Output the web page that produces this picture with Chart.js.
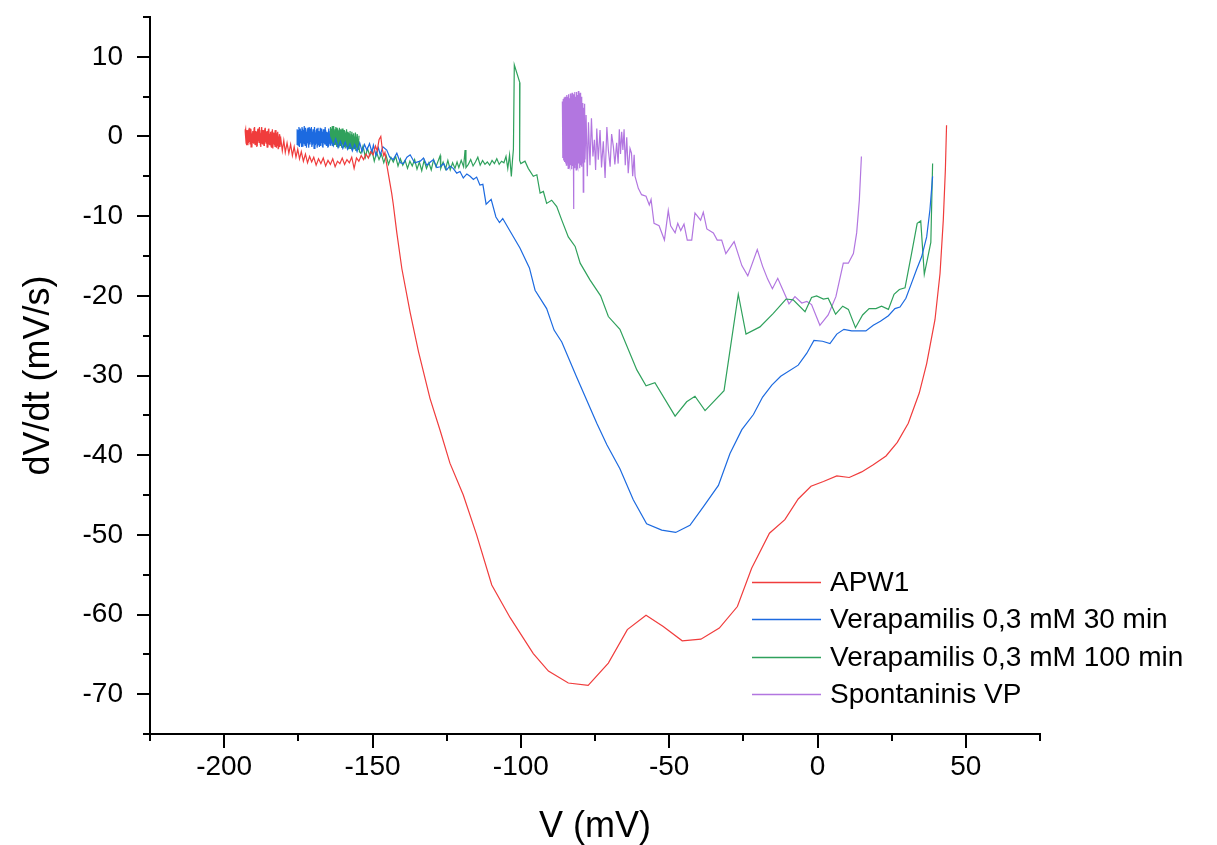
<!DOCTYPE html>
<html lang="en">
<head>
    <meta charset="UTF-8">
    <title>dV/dt vs V</title>
    <script src="https://cdn.jsdelivr.net/npm/chart.js"></script>
    <style>
        body { margin: 0; background: #ffffff; }
        #wrap { width: 1217px; height: 845px; }
    </style>
</head>
<body>
<div id="wrap"><canvas id="phaseChart" width="1217" height="845"></canvas></div>
<script>
// [V (mV), dV/dt (mV/s)] pairs
const seriesNames = ['APW1', 'Verapamilis 0,3 mM 30 min', 'Verapamilis 0,3 mM 100 min', 'Spontaninis VP'];

const apw1 = [
    [-181.35,0.3],[-181.65,-1.5],[-181.95,0.6],[-182.25,-1.2],[-182.55,0.8],[-182.85,-1.3],[-183.15,0.4],[-183.45,-1.0],[-183.75,0.9],[-184.05,-1.4],
    [-184.35,0.6],[-184.65,-1.1],[-184.95,1.0],[-185.25,-1.3],[-185.55,0.7],[-185.85,-0.9],[-186.15,1.1],[-186.45,-1.2],[-186.75,0.5],[-187.05,-1.0],
    [-187.35,1.2],[-187.65,-1.3],[-187.95,0.8],[-188.25,-0.8],[-188.55,1.0],[-188.85,-1.2],[-189.15,0.6],[-189.45,-1.1],[-189.75,1.2],[-190.05,-0.9],
    [-190.35,0.7],[-190.65,-1.3],[-190.95,0.9],[-191.25,-1.0],[-191.55,1.1],[-191.85,-0.8],[-192.15,0.7],[-192.45,-1.1],[-192.75,0.9],
    [-192.9,0.6],[-192.6,-0.9],[-192.3,0.8],[-192.0,-1.1],[-191.7,0.9],[-191.4,-0.7],[-191.1,1.0],[-190.8,-1.2],[-190.5,0.5],[-190.2,-0.8],
    [-189.9,1.1],[-189.6,-1.0],[-189.3,0.7],[-189.0,-1.3],[-188.7,0.9],[-188.4,-0.6],[-188.1,1.2],[-187.8,-1.1],[-187.5,0.4],[-187.2,-0.9],
    [-186.9,0.8],[-186.6,-1.2],[-186.3,1.0],[-186.0,-0.7],[-185.7,0.6],[-185.4,-1.4],[-185.1,0.9],[-184.8,-1.0],[-184.5,0.3],[-184.2,-1.2],
    [-183.9,0.7],[-183.6,-1.5],[-183.3,0.5],[-183.0,-1.1],[-182.7,0.2],[-182.4,-1.4],[-182.1,0.4],[-181.8,-1.6],[-181.5,0.0],[-181.2,-1.3],
    [-180.9,-0.3],[-180.4,-1.8],[-179.9,-0.5],[-179.4,-2.0],[-178.8,-0.8],[-178.2,-2.1],[-177.6,-1.0],[-177.0,-2.4],[-176.4,-1.3],[-175.8,-2.6],
    [-175.2,-1.6],[-174.6,-2.8],[-174.0,-1.9],[-173.3,-3.1],[-172.6,-2.2],[-171.9,-3.3],[-171.2,-2.5],[-170.5,-3.2],[-169.8,-2.6],[-169.0,-3.6],
    [-168.2,-2.8],[-167.4,-3.4],[-166.6,-2.7],[-165.8,-3.7],[-165.0,-3.0],[-164.2,-3.5],[-163.4,-2.8],[-162.6,-3.8],[-161.8,-3.1],[-161.0,-3.4],
    [-160.2,-2.7],[-159.4,-3.5],[-158.6,-2.9],[-157.8,-3.3],[-157.0,-2.6],[-156.2,-4.0],[-155.4,-2.7],[-154.6,-3.1],[-153.8,-2.4],[-153.0,-2.9],
    [-152.2,-2.2],[-151.4,-2.7],[-150.6,-1.9],[-149.8,-2.3],[-149.0,-1.2],[-148.4,-1.8],[-147.8,-0.4],[-147.2,0.0],[-146.7,-1.6],[-146.2,-2.4],
    [-145.8,-2.0],[-145.4,-3.1],[-143.5,-7.2],[-143.0,-8.5],[-141.8,-12.1],[-140.1,-16.6],[-137.3,-22.1],[-134.5,-27.0],[-130.6,-32.9],[-127.2,-36.9],
    [-123.9,-41.0],[-119.4,-45.0],[-114.9,-50.0],[-109.8,-56.3],[-103.6,-60.4],[-95.8,-64.9],[-90.7,-67.1],[-84.0,-68.6],[-77.3,-68.9],[-70.5,-66.1],
    [-64.1,-61.9],[-57.8,-60.1],[-52.0,-61.5],[-45.6,-63.3],[-39.3,-63.1],[-33.1,-61.7],[-27.0,-59.0],[-22.2,-54.2],[-16.2,-49.8],[-11.0,-48.1],
    [-6.5,-45.5],[-2.2,-43.9],[2.0,-43.3],[6.5,-42.6],[10.7,-42.8],[14.9,-42.1],[18.8,-41.2],[23.1,-40.1],[26.9,-38.4],[30.6,-36.0],
    [34.3,-32.2],[36.8,-28.5],[39.6,-23.0],[41.3,-17.2],[42.4,-10.5],[43.1,-4.2],[43.5,1.4]
];

const vera30 = [
    [-164.45,-0.9],[-164.75,1.0],[-165.05,-1.4],[-165.35,0.6],[-165.65,-1.1],[-165.95,1.2],[-166.25,-0.8],[-166.55,0.9],[-166.85,-1.3],[-167.15,1.0],
    [-167.45,-1.2],[-167.75,0.7],[-168.05,-1.0],[-168.35,1.1],[-168.65,-1.4],[-168.95,0.8],[-169.25,-1.1],[-169.55,1.2],[-169.85,-0.9],[-170.15,0.6],
    [-170.45,-1.3],[-170.75,1.0],[-171.05,-1.0],[-171.35,1.2],[-171.65,-0.8],[-171.95,0.9],[-172.25,-1.4],[-172.55,1.1],[-172.85,-1.0],[-173.15,0.8],
    [-173.45,-1.2],[-173.75,1.2],[-174.05,-0.9],[-174.35,1.0],[-174.65,-1.3],[-174.95,0.8],[-175.25,-1.0],
    [-175.4,0.9],[-175.1,-1.1],[-174.8,1.2],[-174.5,-0.8],[-174.2,0.7],[-173.9,-1.3],[-173.6,1.0],[-173.3,-0.9],[-173.0,1.3],[-172.7,-1.2],
    [-172.4,0.6],[-172.1,-1.0],[-171.8,1.1],[-171.5,-1.4],[-171.2,0.8],[-170.9,-0.7],[-170.6,1.2],[-170.3,-1.1],[-170.0,0.9],[-169.7,-1.5],
    [-169.4,0.5],[-169.1,-0.9],[-168.8,1.0],[-168.5,-1.2],[-168.2,0.7],[-167.9,-1.3],[-167.6,1.1],[-167.3,-0.8],[-167.0,0.6],[-166.7,-1.4],
    [-166.4,0.9],[-166.1,-1.0],[-165.8,0.8],[-165.5,-1.2],[-165.2,0.5],[-164.9,-1.3],[-164.6,0.7],[-164.3,-1.1],
    [-164.0,-0.4],[-163.2,-1.2],[-162.4,-0.3],[-161.6,-1.4],[-160.8,-0.6],[-160.0,-1.5],[-159.2,-0.7],[-158.4,-1.6],[-157.6,-0.9],[-156.8,-1.8],
    [-156.0,-1.0],[-155.2,-1.9],[-154.3,-0.8],[-153.5,-1.9],[-152.7,-1.0],[-151.9,-1.7],[-151.0,-0.9],[-150.2,-2.0],[-149.7,-1.1],[-148.8,-2.4],
    [-148.0,-1.4],[-147.4,-2.3],[-146.5,-1.3],[-145.2,-1.7],[-144.2,-2.6],[-143.0,-2.9],[-141.8,-2.1],[-140.6,-3.3],[-139.6,-3.4],[-138.4,-2.6],
    [-137.3,-2.3],[-135.8,-3.3],[-133.9,-3.1],[-132.8,-2.7],[-131.7,-3.6],[-130.5,-3.2],[-129.5,-2.9],[-128.3,-3.9],[-127.2,-3.8],[-126.0,-3.4],
    [-125.0,-4.2],[-123.9,-3.7],[-122.8,-4.0],[-121.6,-4.6],[-120.5,-4.4],[-119.4,-5.2],[-118.2,-4.7],[-117.1,-5.0],[-116.0,-5.4],[-114.9,-5.1],
    [-113.8,-6.1],[-112.8,-6.0],[-111.7,-8.5],[-110.0,-7.9],[-108.4,-10.1],[-107.2,-10.8],[-106.1,-10.3],[-103.9,-11.7],[-100.3,-14.0],[-97.1,-16.5],
    [-95.2,-19.3],[-91.3,-21.6],[-88.8,-24.3],[-86.2,-25.8],[-81.2,-30.2],[-74.4,-36.0],[-71.0,-38.7],[-66.6,-41.7],[-62.1,-45.6],[-57.6,-48.6],
    [-52.5,-49.4],[-47.8,-49.7],[-43.0,-48.8],[-38.5,-46.5],[-33.4,-43.8],[-29.5,-39.8],[-25.5,-36.8],[-21.6,-34.9],[-18.5,-32.7],[-15.4,-31.2],
    [-12.4,-30.1],[-6.5,-28.7],[-3.6,-27.2],[-1.2,-25.6],[1.7,-25.7],[4.2,-26.0],[6.5,-24.8],[8.9,-24.2],[11.5,-24.4],[16.3,-24.4],
    [18.8,-23.7],[21.2,-23.2],[23.9,-22.5],[26.1,-21.6],[27.8,-21.4],[29.8,-20.3],[31.7,-18.4],[33.4,-16.7],[35.1,-15.1],[36.8,-12.6],
    [37.9,-9.2],[38.8,-5.0]
];

const vera100 = [
    [-154.55,0.1],[-154.85,-1.7],[-155.15,0.3],[-155.45,-1.4],[-155.75,0.5],[-156.05,-1.6],[-156.35,0.4],[-156.65,-1.3],[-156.95,0.6],[-157.25,-1.5],
    [-157.55,0.7],[-157.85,-1.2],[-158.15,0.5],[-158.45,-1.4],[-158.75,0.9],[-159.05,-1.1],[-159.35,0.7],[-159.65,-1.3],[-159.95,1.0],[-160.25,-1.0],
    [-160.55,0.8],[-160.85,-1.2],[-161.15,1.1],[-161.45,-0.9],[-161.75,0.9],[-162.05,-1.3],[-162.35,1.2],[-162.65,-1.0],[-162.95,0.9],[-163.25,-1.1],
    [-163.55,1.3],[-163.85,-0.8],[-164.15,1.1],
    [-164.3,1.2],[-164.0,-0.9],[-163.7,1.0],[-163.4,-1.2],[-163.1,1.3],[-162.8,-0.8],[-162.5,0.9],[-162.2,-1.1],[-161.9,1.1],[-161.6,-1.3],
    [-161.3,0.8],[-161.0,-1.0],[-160.7,0.9],[-160.4,-1.4],[-160.1,0.7],[-159.8,-1.2],[-159.5,0.8],[-159.2,-1.5],[-158.9,0.5],[-158.6,-1.3],
    [-158.3,0.6],[-158.0,-1.6],[-157.7,0.4],[-157.4,-1.4],[-157.1,0.3],[-156.8,-1.7],[-156.5,0.2],[-156.2,-1.5],[-155.9,0.0],[-155.6,-1.8],
    [-155.3,-0.1],[-155.0,-1.6],[-154.7,-0.3],[-154.4,-1.9],
    [-153.9,-2.1],[-153.2,-1.2],[-152.4,-2.6],[-151.7,-1.5],[-150.9,-2.4],[-150.2,-1.7],[-149.4,-3.1],[-148.6,-2.0],[-147.8,-2.9],[-147.0,-2.2],
    [-146.2,-3.3],[-145.4,-2.4],[-144.6,-3.5],[-143.8,-2.6],[-143.0,-3.2],[-142.2,-2.5],[-141.4,-3.7],[-140.6,-2.8],[-139.8,-3.6],[-139.0,-3.0],
    [-138.2,-4.0],[-137.4,-3.1],[-136.6,-3.7],[-135.8,-2.9],[-135.0,-4.1],[-134.2,-3.2],[-133.4,-4.3],[-132.6,-3.0],[-131.8,-4.0],[-131.0,-3.3],
    [-130.2,-4.2],[-129.4,-2.9],[-128.6,-3.8],[-127.2,-2.4],[-127.0,-4.0],[-126.2,-3.2],[-125.4,-4.1],[-124.6,-3.0],[-123.8,-4.2],[-123.0,-3.3],
    [-122.2,-4.0],[-121.5,-3.2],[-120.9,-3.9],[-120.1,-3.0],[-119.3,-3.8],[-118.8,-1.7],[-118.5,-3.9],[-117.7,-3.5],[-116.9,-2.9],[-116.1,-3.7],
    [-115.3,-3.2],[-114.5,-2.6],[-113.7,-3.6],[-112.9,-3.0],[-112.1,-3.5],[-111.3,-3.2],[-110.5,-3.6],[-109.7,-3.0],[-108.9,-3.4],[-108.1,-2.8],
    [-107.3,-3.5],[-106.5,-3.1],[-105.7,-3.3],[-105.0,-2.5],[-104.4,-4.0],[-103.8,-2.3],[-103.2,-5.0],[-102.8,-2.9],[-102.5,-1.6],[-102.2,9.0],
    [-100.3,6.7],[-100.4,-3.0],[-100.0,-3.4],[-98.6,-3.1],[-97.5,-4.0],[-95.8,-5.0],[-94.6,-4.8],[-93.5,-7.1],[-92.4,-6.9],[-91.3,-8.4],
    [-89.6,-8.0],[-87.9,-8.8],[-86.2,-10.5],[-84.0,-12.6],[-81.7,-13.8],[-80.0,-15.9],[-76.7,-18.0],[-73.1,-20.0],[-70.5,-22.6],[-66.6,-24.2],
    [-60.9,-29.3],[-57.8,-31.3],[-54.8,-30.9],[-48.0,-35.1],[-44.1,-33.3],[-41.3,-32.6],[-37.9,-34.4],[-31.5,-31.9],[-26.7,-19.8],[-24.1,-24.8],
    [-19.4,-23.9],[-14.9,-22.2],[-10.6,-20.4],[-8.2,-20.5],[-4.2,-22.0],[-2.0,-20.2],[-0.3,-20.0],[2.0,-20.4],[3.6,-20.3],[6.1,-22.3],
    [8.5,-21.3],[10.4,-21.7],[12.8,-24.0],[15.2,-22.4],[17.4,-21.6],[19.7,-21.6],[21.6,-21.3],[23.9,-21.7],[25.8,-19.8],[27.6,-19.2],
    [29.5,-19.0],[31.7,-14.7],[33.6,-10.9],[34.8,-10.6],[36.0,-17.3],[38.2,-13.3],[38.8,-3.4]
];

const spontVP = [
    [-86.00,4.4],[-85.85,-2.7],[-85.70,4.7],[-85.55,-3.0],[-85.40,4.9],[-85.25,-3.2],[-85.10,5.0],[-84.95,-3.4],[-84.80,4.6],[-84.65,-3.6],
    [-84.50,5.2],[-84.35,-3.3],[-84.20,5.0],[-84.05,-4.0],[-83.90,5.3],[-83.75,-3.5],[-83.60,4.8],[-83.45,-3.8],[-83.30,5.4],[-83.15,-3.6],
    [-83.00,5.1],[-82.85,-4.1],[-82.70,5.5],[-82.55,-3.7],[-82.40,4.9],[-82.25,-9.1],[-82.10,5.3],[-81.95,-3.9],[-81.80,5.6],[-81.65,-3.5],
    [-81.50,5.0],[-81.35,-4.2],[-81.20,5.6],[-81.05,-3.6],[-80.90,5.2],[-80.75,-3.9],[-80.60,5.7],[-80.45,-3.4],[-80.30,5.3],[-80.15,-4.0],
    [-80.00,5.5],[-79.85,-3.6],[-79.70,5.0],[-79.55,-3.8],[-79.40,4.6],[-79.25,-3.3],[-79.10,4.2],[-78.95,-7.0],[-78.80,3.6],[-78.65,-3.2],
    [-78.50,4.1],[-78.35,-2.9],
    [-78.0,2.7],[-77.6,-5.0],[-77.2,1.8],[-76.7,-3.6],[-76.2,2.3],[-75.7,-2.5],[-75.2,-0.4],[-74.8,-4.2],[-74.4,1.0],[-73.9,-2.9],
    [-73.3,0.8],[-72.8,-3.9],[-72.2,-0.6],[-71.6,-5.2],[-71.0,1.2],[-70.5,-1.7],[-69.9,-3.8],[-69.4,0.3],[-68.8,-1.3],[-68.3,-3.5],
    [-67.7,-0.8],[-67.2,-3.4],[-66.8,0.9],[-66.4,-2.2],[-66.0,0.6],[-65.6,-1.7],[-65.2,0.9],[-64.8,-3.6],[-64.3,-0.1],[-63.8,-4.6],
    [-63.2,-1.5],[-62.7,-2.1],[-62.3,-5.0],[-61.8,-2.3],[-61.5,-5.0],[-60.4,-6.5],[-59.3,-7.3],[-57.8,-7.5],[-56.7,-8.6],[-56.1,-7.9],
    [-55.1,-10.9],[-53.4,-11.2],[-51.6,-13.0],[-50.3,-9.3],[-49.5,-11.2],[-48.0,-12.1],[-47.1,-10.9],[-46.1,-11.8],[-45.0,-11.0],[-43.9,-13.0],
    [-42.4,-13.0],[-41.3,-9.6],[-39.4,-10.5],[-38.5,-9.5],[-37.3,-11.6],[-35.1,-12.1],[-33.8,-13.0],[-32.3,-13.0],[-30.9,-14.7],[-28.1,-13.2],
    [-25.5,-16.2],[-23.5,-17.5],[-20.3,-14.2],[-18.5,-16.3],[-16.8,-17.9],[-15.2,-19.1],[-13.4,-17.8],[-9.6,-21.0],[-7.6,-20.1],[-5.3,-20.9],
    [-3.6,-20.7],[-2.0,-21.1],[0.8,-23.7],[3.6,-22.4],[6.2,-20.1],[8.7,-15.9],[10.4,-15.9],[12.1,-14.7],[13.2,-12.1],[14.1,-8.0],
    [14.8,-2.5]
];

const seriesData = [apw1, vera30, vera100, spontVP];
const seriesColors = ['#f03c3c', '#1c6ae0', '#2fa15c', '#b276e0'];

const xMin = -225, xMax = 75, xStep = 25;
const yMin = -75, yMax = 15, yStep = 5;

const FONT = "'Liberation Sans', Arial, sans-serif";

// minor / major tick marks, drawn outside the plot like the original
const tickMarks = {
    id: 'tickMarks',
    afterDraw(chart) {
        const { ctx, scales: { x, y } } = chart;
        ctx.save();
        ctx.strokeStyle = '#000';
        ctx.lineWidth = 2;
        x.ticks.forEach(t => {
            const p = Math.round(x.getPixelForValue(t.value));
            const len = t.value % 50 === 0 ? 14 : 7;
            ctx.beginPath();
            ctx.moveTo(p, x.top);
            ctx.lineTo(p, x.top + len);
            ctx.stroke();
        });
        y.ticks.forEach(t => {
            const p = Math.round(y.getPixelForValue(t.value));
            const len = t.value % 10 === 0 ? 13 : 7;
            ctx.beginPath();
            ctx.moveTo(y.right, p);
            ctx.lineTo(y.right - len, p);
            ctx.stroke();
        });
        ctx.restore();
    }
};

// legend inside the plot, lower right
const innerLegend = {
    id: 'innerLegend',
    afterDraw(chart) {
        const ctx = chart.ctx;
        const x0 = 752, x1 = 821, tx = 830, y0 = 581.5, dy = 37.6;
        ctx.save();
        ctx.font = '28px ' + FONT;
        ctx.textBaseline = 'middle';
        ctx.fillStyle = '#000';
        chart.data.datasets.forEach((ds, i) => {
            const yy = Math.round(y0 + i * dy) + 0.5;
            ctx.strokeStyle = ds.borderColor;
            ctx.lineWidth = 1.3;
            ctx.beginPath();
            ctx.moveTo(x0, yy);
            ctx.lineTo(x1, yy);
            ctx.stroke();
            ctx.fillText(ds.label, tx, yy + 1);
        });
        ctx.restore();
    }
};

const datasets = seriesNames.map((name, i) => ({
    label: name,
    data: seriesData[i].map(p => ({ x: p[0], y: p[1] })),
    borderColor: seriesColors[i],
    backgroundColor: seriesColors[i],
    borderWidth: 1.2,
    showLine: true,
    pointRadius: 0,
    tension: 0
}));

new Chart(document.getElementById('phaseChart'), {
    type: 'scatter',
    data: { datasets: datasets },
    options: {
        responsive: false,
        animation: false,
        layout: { padding: { left: 0, top: 17, right: 177, bottom: 0 } },
        plugins: {
            legend: { display: false },
            tooltip: { enabled: false }
        },
        scales: {
            x: {
                type: 'linear',
                min: xMin, max: xMax,
                afterFit: s => { s.height = 111; s.paddingLeft = 0; s.paddingRight = 0; },
                grid: { display: true, drawOnChartArea: false, drawTicks: false },
                border: { display: true, color: '#000', width: 2 },
                ticks: {
                    stepSize: xStep,
                    autoSkip: false,
                    maxRotation: 0,
                    padding: 16,
                    color: '#000',
                    font: { family: FONT, size: 28 },
                    callback: v => (v % 50 === 0 ? v : '')
                },
                title: {
                    display: true,
                    text: 'V (mV)',
                    color: '#000',
                    font: { family: FONT, size: 36, lineHeight: 1 },
                    padding: { top: 0, bottom: 0 }
                }
            },
            y: {
                type: 'linear',
                min: yMin, max: yMax,
                afterFit: s => { s.width = 150; s.paddingTop = 0; s.paddingBottom = 0; },
                grid: { display: true, drawOnChartArea: false, drawTicks: false },
                border: { display: true, color: '#000', width: 2 },
                ticks: {
                    stepSize: yStep,
                    autoSkip: false,
                    padding: 27,
                    color: '#000',
                    font: { family: FONT, size: 28 },
                    callback: v => (v % 10 === 0 ? v : '')
                },
                title: {
                    display: true,
                    text: 'dV/dt (mV/s)',
                    color: '#000',
                    font: { family: FONT, size: 36, lineHeight: 1 },
                    padding: { top: 21, bottom: 0 }
                }
            }
        }
    },
    plugins: [tickMarks, innerLegend]
});
</script>
</body>
</html>
